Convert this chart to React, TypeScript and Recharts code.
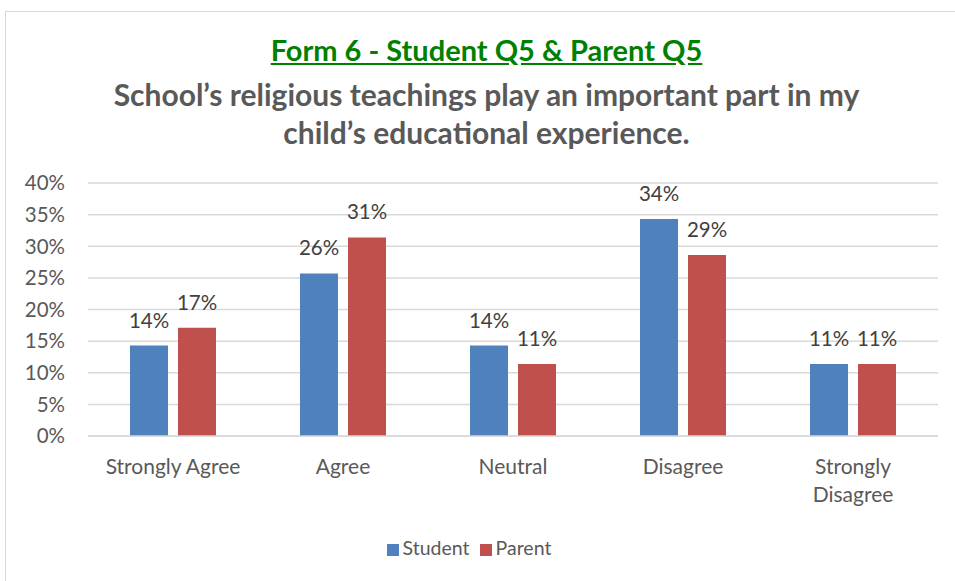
import React from "react";
import { Bar, BarChart, CartesianGrid, LabelList, Legend, XAxis, YAxis } from "recharts";

const categories = ["Strongly Agree", "Agree", "Neutral", "Disagree", "Strongly Disagree"];
const studentValues = [14.3, 25.7, 14.3, 34.3, 11.4];
const parentValues = [17.1, 31.4, 11.4, 28.6, 11.4];
const yTicks = [0, 5, 10, 15, 20, 25, 30, 35, 40];
const seriesOrder = ["Student", "Parent"];

const FONT = "Lato, 'Open Sans', sans-serif";
const GRAY = "#595959";

const data = categories.map((c, i) => ({
  category: c,
  student: studentValues[i],
  parent: parentValues[i],
}));

function CategoryTick(props: any) {
  const { x, y, payload } = props;
  const label: string = payload.value;
  // long labels wrap onto two lines like the original
  const lines = label.length > 14 ? label.split(" ") : [label];
  return (
    <text x={x} y={y} textAnchor="middle" fill={GRAY} fontSize={21} fontFamily={FONT}>
      {lines.map((ln, i) => (
        <tspan key={i} x={x} dy={i === 0 ? 30 : 28}>
          {ln}
        </tspan>
      ))}
    </text>
  );
}

const pct = (v: any) => `${Math.round(Number(v))}%`;

export default function App() {
  return (
    <div
      style={{
        position: "absolute",
        left: 0,
        top: 0,
        width: 955,
        height: 581,
        background: "#fff",
        overflow: "hidden",
        fontFamily: FONT,
      }}
    >
      {/* chart frame */}
      <div
        style={{
          position: "absolute",
          left: 5,
          top: 11,
          width: 970,
          height: 600,
          border: "1px solid #d9d9d9",
        }}
      />
      <div
        style={{
          position: "absolute",
          left: 0,
          width: 973,
          top: 33,
          textAlign: "center",
          color: "#008000",
          fontWeight: 700,
          fontSize: 29,
          textDecoration: "underline",
          lineHeight: "34px",
        }}
      >
        Form 6 - Student Q5 &amp; Parent Q5
      </div>
      <div
        style={{
          position: "absolute",
          left: 0,
          width: 973,
          top: 75,
          textAlign: "center",
          color: GRAY,
          fontWeight: 700,
          fontSize: 30,
          lineHeight: "38px",
        }}
      >
        School’s religious teachings play an important part in my
        <br />
        child’s educational experience.
      </div>
      <div style={{ position: "absolute", left: 0, top: 0 }}>
        <BarChart
          width={955}
          height={581}
          data={data}
          margin={{ top: 183, right: 17, bottom: 22, left: 0 }}
          barGap={10}
          barSize={38}
        >
          <CartesianGrid vertical={false} stroke="#d9d9d9" strokeWidth={1.5} />
          <XAxis
            dataKey="category"
            axisLine={{ stroke: "#d9d9d9", strokeWidth: 1.5 }}
            tickLine={false}
            tick={<CategoryTick />}
            height={100}
            interval={0}
          />
          <YAxis
            domain={[0, 40]}
            ticks={yTicks}
            tickFormatter={(v) => `${v}%`}
            axisLine={false}
            tickLine={false}
            width={88}
            tickSize={0}
            tickMargin={23}
            tick={{ fill: GRAY, fontSize: 20.5, fontFamily: FONT }}
          />
          <Legend
            verticalAlign="bottom"
            iconType="square"
            iconSize={12}
            itemSorter={(item: any) => seriesOrder.indexOf(item.value)}
            wrapperStyle={{ fontFamily: FONT, fontSize: 19.5, left: 5 }}
            formatter={(value) => <span style={{ color: GRAY }}>{value}</span>}
          />
          <Bar dataKey="student" name="Student" fill="#4F81BD" isAnimationActive={false}>
            <LabelList dataKey="student" position="top" offset={18} formatter={pct} fill="#404040" fontSize={20.5} fontFamily={FONT} />
          </Bar>
          <Bar dataKey="parent" name="Parent" fill="#C0504D" isAnimationActive={false}>
            <LabelList dataKey="parent" position="top" offset={18} formatter={pct} fill="#404040" fontSize={20.5} fontFamily={FONT} />
          </Bar>
        </BarChart>
      </div>
    </div>
  );
}
